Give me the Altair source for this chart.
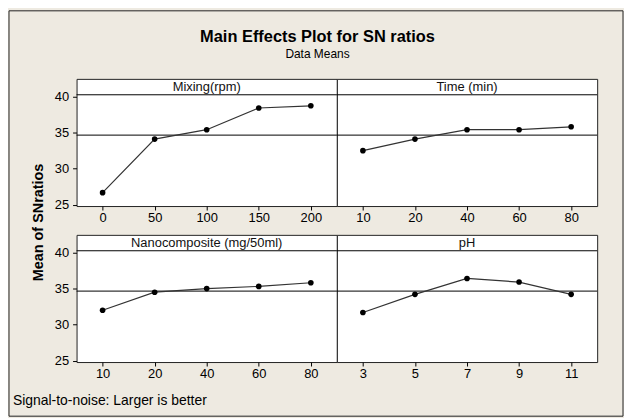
import altair as alt
import pandas as pd

# ---------------- data ----------------
mixing_levels = ["0", "50", "100", "150", "200"]
mixing_sn = [26.7, 34.1, 35.4, 38.4, 38.7]

time_levels = ["10", "20", "40", "60", "80"]
time_sn = [32.5, 34.1, 35.4, 35.4, 35.8]

nano_levels = ["10", "20", "40", "60", "80"]
nano_sn = [32.0, 34.5, 35.0, 35.3, 35.8]

ph_levels = ["3", "5", "7", "9", "11"]
ph_sn = [31.7, 34.2, 36.4, 35.9, 34.2]

overall_mean = [34.65]
y_ticks = [25, 30, 35, 40]

factor_names = ["Mixing(rpm)", "Time (min)", "Nanocomposite (mg/50ml)", "pH"]
title_text = "Main Effects Plot for SN ratios"
subtitle_text = "Data Means"
y_title = "Mean of SNratios"
footnote_text = "Signal-to-noise: Larger is better"

# ---------------- style ----------------
FONT = "Liberation Sans"
BG = "#EEEAE1"
INK = "#000000"
W, H = 262, 128
STRIP = 16
Y_DOMAIN = [24.85, 42.42]


def panel(name, levels, values, left=False, first=False):
    df = pd.DataFrame({"level": levels, "sn": values})
    yscale = alt.Scale(domain=Y_DOMAIN, nice=False, zero=False)
    if left:
        axis_kw = dict(values=y_ticks, grid=False, domain=False, tickSize=4,
                       labelPadding=4, labelFontSize=13, tickColor=INK,
                       labelColor=INK, labelFont=FONT)
        if first:
            yaxis = alt.Axis(title=y_title, titleX=-38.5, titleY=144,
                             titleAngle=270, titleAlign="center",
                             titleBaseline="middle", titleFontSize=14.5,
                             titleFontWeight="bold", titleFont=FONT,
                             titleColor=INK, **axis_kw)
        else:
            yaxis = alt.Axis(title=None, **axis_kw)
    else:
        yaxis = None

    x = alt.X("level:O", sort=levels,
              axis=alt.Axis(title=None, labelAngle=0, domain=False, grid=False,
                            tickSize=4, labelPadding=2, labelFontSize=13,
                            tickColor=INK, labelColor=INK, labelFont=FONT))

    ref = alt.Chart(pd.DataFrame({"sn": overall_mean})).mark_rule(
        color=INK, strokeWidth=1
    ).encode(y=alt.Y("sn:Q", scale=yscale, axis=yaxis))

    line = alt.Chart(df).mark_line(color="#333333", strokeWidth=1.2).encode(
        x=x, y=alt.Y("sn:Q", scale=yscale, axis=yaxis)
    )
    pts = alt.Chart(df).mark_point(
        filled=True, color=INK, size=32, opacity=1
    ).encode(x=x, y=alt.Y("sn:Q", scale=yscale, axis=yaxis))

    lab = pd.DataFrame({"t": [name]})
    strip_line = alt.Chart(lab).mark_rule(color=INK, strokeWidth=1).encode(
        x=alt.value(0), x2=alt.value(W), y=alt.value(STRIP)
    )
    strip_text = alt.Chart(lab).mark_text(
        font=FONT, fontSize=13, color="#111111", baseline="middle", align="center"
    ).encode(text="t:N", x=alt.value(W / 2), y=alt.value(STRIP / 2))

    layers = [ref, line, pts, strip_line, strip_text]

    if first:
        deco = pd.DataFrame({"title": [title_text], "sub": [subtitle_text],
                             "foot": [footnote_text]})
        frame = alt.Chart(deco).mark_rect(
            fillOpacity=0, stroke="#222222", strokeWidth=1
        ).encode(x=alt.value(-68), x2=alt.value(550),
                 y=alt.value(-68.5), y2=alt.value(339.5))
        t1 = alt.Chart(deco).mark_text(
            font=FONT, fontSize=16.5, fontWeight="bold", color=INK,
            align="center", baseline="middle"
        ).encode(text="title:N", x=alt.value(242.5), y=alt.value(-42))
        t2 = alt.Chart(deco).mark_text(
            font=FONT, fontSize=12, color=INK, align="center", baseline="middle"
        ).encode(text="sub:N", x=alt.value(242.5), y=alt.value(-25))
        t3 = alt.Chart(deco).mark_text(
            font=FONT, fontSize=14, color=INK, align="left", baseline="middle"
        ).encode(text="foot:N", x=alt.value(-64), y=alt.value(324))
        layers = [frame] + layers + [t1, t2, t3]

    return alt.layer(*layers).properties(width=W, height=H)


p1 = panel(factor_names[0], mixing_levels, mixing_sn, left=True, first=True)
p2 = panel(factor_names[1], time_levels, time_sn)
p3 = panel(factor_names[2], nano_levels, nano_sn, left=True)
p4 = panel(factor_names[3], ph_levels, ph_sn)

chart = alt.concat(
    p1, p2, p3, p4, columns=2, spacing={"row": 29, "column": 0}, bounds="flush"
).properties(
    background=BG, padding=0
).configure_view(
    stroke="#222222", strokeWidth=1, fill="white"
)

chart.save("out.html", embed_options={"renderer": "svg", "actions": False})
